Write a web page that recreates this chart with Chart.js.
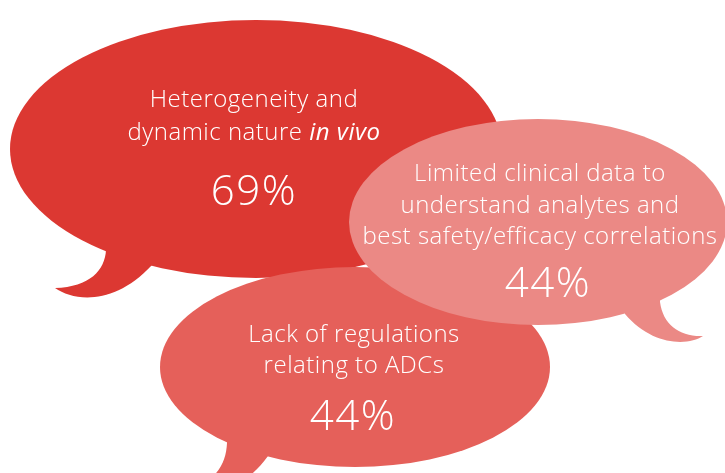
<!DOCTYPE html>
<html>
<head>
<meta charset="utf-8">
<script src="https://cdn.jsdelivr.net/npm/chart.js@4"></script>
<style>
  html, body { margin: 0; padding: 0; background: #fff; }
  canvas { display: block; }
</style>
</head>
<body>
<canvas id="bulles" width="725" height="473"></canvas>
<script>
// Données : réponses (texte) et pourcentages
const categories = [
    ['Heterogeneity and', 'dynamic nature *in vivo*'],
    ['Lack of regulations', 'relating to ADCs'],
    ['Limited clinical data to', 'understand analytes and', 'best safety/efficacy correlations']
];
const values = [69, 44, 44];

// Mise en page des bulles (unités de l'axe = pixels du canevas)
const bubbleX = [256, 355, 538];
const bubbleY = [149, 367, 222];
const radiusX = [246, 195, 189];
const radiusY = [129, 100, 103];
const colors = ['#dc3832', '#e5605a', '#eb8985'];

// Texte : centre x, première ligne, interligne, ligne du pourcentage
const textX = [254, 354, 540];
const textTop = [107, 342, 181];
const lineGap = [33, 31, 31.5];
const pctX = [254, 353, 548];
const pctY = [205, 430, 297];

// Queues des bulles, décalages par rapport au centre : [x, y] puis courbes
const tails = [
    [[-150, 80], [-150, 101], [-151, 121, -166, 138, -201, 139], [-181, 153, -141, 156, -104, 116], [-104, 80]],
    [[-128, 60], [-128, 76], [-129, 98, -140, 118, -175, 123], [-155, 133, -115, 128, -87, 89], [-87, 60]],
    [[122, 60], [122, 80], [125, 103, 142, 115, 165, 114], [150, 124, 114, 124, 87, 92], [87, 60]]
];

const FONT = '"Open Sans", "Noto Sans", sans-serif';

const speechBubbles = {
    id: 'speechBubbles',
    afterDatasetsDraw(chart) {
        const ctx = chart.ctx;
        const xs = chart.scales.x;
        const ys = chart.scales.y;
        const meta = chart.getDatasetMeta(0);
        const px = (i, dx) => xs.getPixelForValue(bubbleX[i] + dx);
        const py = (i, dy) => ys.getPixelForValue(bubbleY[i] + dy);

        meta.data.forEach((pt, i) => {
            ctx.save();
            ctx.fillStyle = colors[i];

            // ellipse
            ctx.beginPath();
            ctx.ellipse(pt.x, pt.y, px(i, radiusX[i]) - pt.x, Math.abs(py(i, radiusY[i]) - pt.y), 0, 0, Math.PI * 2);
            ctx.fill();

            // queue
            const t = tails[i];
            ctx.beginPath();
            ctx.moveTo(px(i, t[0][0]), py(i, t[0][1]));
            ctx.lineTo(px(i, t[1][0]), py(i, t[1][1]));
            ctx.bezierCurveTo(px(i, t[2][0]), py(i, t[2][1]), px(i, t[2][2]), py(i, t[2][3]), px(i, t[2][4]), py(i, t[2][5]));
            ctx.bezierCurveTo(px(i, t[3][0]), py(i, t[3][1]), px(i, t[3][2]), py(i, t[3][3]), px(i, t[3][4]), py(i, t[3][5]));
            ctx.lineTo(px(i, t[4][0]), py(i, t[4][1]));
            ctx.closePath();
            ctx.fill();

            // texte
            ctx.fillStyle = '#ffffff';
            ctx.textBaseline = 'alphabetic';
            ctx.textAlign = 'left';
            ctx.letterSpacing = '0.5px';
            categories[i].forEach((line, k) => {
                const parts = line.split('*');
                const fonts = parts.map((_, j) => (j % 2 ? 'italic 400 ' : '300 ') + '24px ' + FONT);
                let w = 0;
                parts.forEach((p, j) => { ctx.font = fonts[j]; w += ctx.measureText(p).width; });
                let x = textX[i] - w / 2;
                const y = textTop[i] + k * lineGap[i];
                parts.forEach((p, j) => {
                    ctx.font = fonts[j];
                    ctx.fillText(p, x, y);
                    x += ctx.measureText(p).width;
                });
            });
            ctx.font = '300 42px ' + FONT;
            ctx.letterSpacing = '1.5px';
            ctx.textAlign = 'center';
            ctx.fillText(values[i] + '%', pctX[i], pctY[i]);
            ctx.restore();
        });
    }
};

document.addEventListener('DOMContentLoaded', () => {
    const ctx = document.getElementById('bulles').getContext('2d');

    new Chart(ctx, {
        type: 'scatter',
        data: {
            labels: categories.map(c => c.join(' ').replace(/\*/g, '')),
            datasets: [{
                label: 'Challenges',
                data: values.map((v, i) => ({ x: bubbleX[i], y: bubbleY[i], v: v })),
                pointRadius: 0,
                pointHoverRadius: 0
            }]
        },
        options: {
            responsive: false,
            animation: false,
            events: [],
            layout: { padding: 0 },
            plugins: {
                legend: { display: false },
                tooltip: { enabled: false }
            },
            scales: {
                x: { type: 'linear', min: 0, max: 725, display: false },
                y: { type: 'linear', min: 0, max: 473, reverse: true, display: false }
            }
        },
        plugins: [speechBubbles]
    });
});
</script>
</body>
</html>
